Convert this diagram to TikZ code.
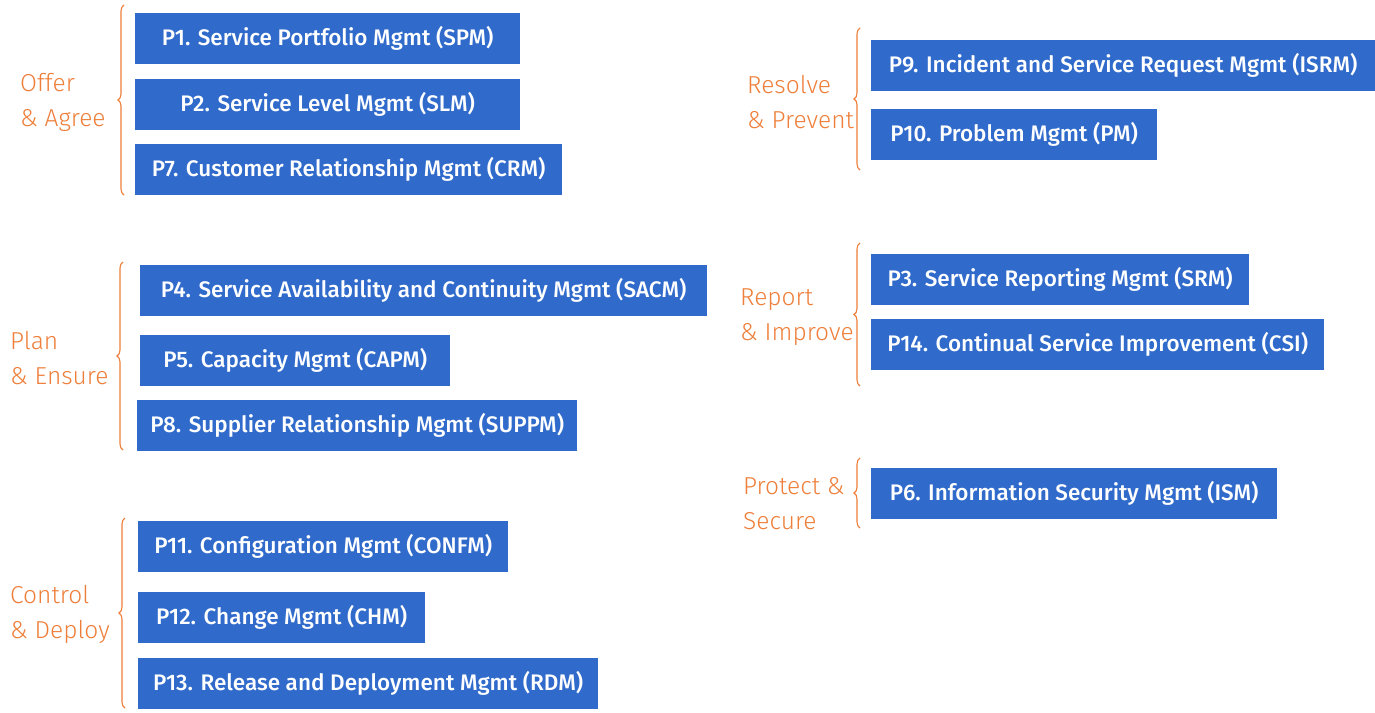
\documentclass[tikz,border=0pt]{standalone}
\usepackage{fontspec}
\setmainfont{Fira Sans}
\newfontfamily\boxfont{Fira Sans Medium}
\newfontfamily\labfont{Fira Sans Light}
\usetikzlibrary{decorations.pathreplacing}
\definecolor{boxblue}{HTML}{306BCC}
\definecolor{lborange}{HTML}{EE7F3A}
\tikzset{
  pbox/.style={rectangle, fill=boxblue, draw=none, anchor=north west, inner sep=0pt,
    minimum height=51pt, text=white, font={\boxfont\fontsize{22.5}{26}\selectfont}},
  grplabel/.style={anchor=west, align=left, text=lborange, inner sep=0pt,
    font={\labfont\fontsize{24.5}{35}\selectfont}},
  grpbrace/.style={draw=lborange, line width=1.1pt,
    decorate, decoration={brace, amplitude=6pt, aspect=0.5}}
}
\begin{document}
\begin{tikzpicture}[x=1pt, y=-1pt]
\useasboundingbox[fill=white] (0,0) rectangle (1375,712);
% left column
\node[pbox, minimum width=385pt] (p1) at (135,13) {P1. Service Portfolio Mgmt (SPM)};
\node[pbox, minimum width=385pt] (p2) at (135,79) {P2. Service Level Mgmt (SLM)};
\node[pbox, minimum width=427pt] (p7) at (135,144) {P7. Customer Relationship Mgmt (CRM)};
\node[pbox, minimum width=567pt] (p4) at (140,265) {P4. Service Availability and Continuity Mgmt (SACM)};
\node[pbox, minimum width=310pt] (p5) at (140,335) {P5. Capacity Mgmt (CAPM)};
\node[pbox, minimum width=440pt] (p8) at (137,400) {P8. Supplier Relationship Mgmt (SUPPM)};
\node[pbox, minimum width=370pt] (p11) at (138,521) {P11. Configuration Mgmt (CONFM)};
\node[pbox, minimum width=287pt] (p12) at (138,592) {P12. Change Mgmt (CHM)};
\node[pbox, minimum width=460pt] (p13) at (138,658) {P13. Release and Deployment Mgmt (RDM)};
% right column
\node[pbox, minimum width=504pt] (p9) at (871,40) {P9. Incident and Service Request Mgmt (ISRM)};
\node[pbox, minimum width=286pt] (p10) at (871,109) {P10. Problem Mgmt (PM)};
\node[pbox, minimum width=378pt] (p3) at (871,254) {P3. Service Reporting Mgmt (SRM)};
\node[pbox, minimum width=453pt] (p14) at (871,319) {P14. Continual Service Improvement (CSI)};
\node[pbox, minimum width=406pt] (p6) at (871,468) {P6. Information Security Mgmt (ISM)};
% labels
\node[grplabel] (loa) at (20,102) {Offer\\\& Agree};
\node[grplabel] (lpe) at (10,358) {Plan\\\& Ensure};
\node[grplabel] (lcd) at (10,614) {Control\\\& Deploy};
\node[grplabel] (lrp) at (747,102) {Resolve\\\& Prevent};
\node[grplabel] (lri) at (740,317) {Report\\\& Improve};
\node[grplabel] (lps) at (743,504) {Protect \&\\Secure};
% brace ends
\coordinate (oab) at (124,195); \coordinate (oat) at (124,5);
\coordinate (peb) at (123,450); \coordinate (pet) at (123,262);
\coordinate (cdb) at (125,708); \coordinate (cdt) at (125,518);
\coordinate (rpb) at (860,170); \coordinate (rpt) at (860,28);
\coordinate (rib) at (860,386); \coordinate (rit) at (860,243);
\coordinate (psb) at (860,528); \coordinate (pst) at (860,458);
\draw[grpbrace] (oab) -- (oat);
\draw[grpbrace] (peb) -- (pet);
\draw[grpbrace] (cdb) -- (cdt);
\draw[grpbrace] (rpb) -- (rpt);
\draw[grpbrace] (rib) -- (rit);
\draw[grpbrace] (psb) -- (pst);
\end{tikzpicture}
\end{document}
